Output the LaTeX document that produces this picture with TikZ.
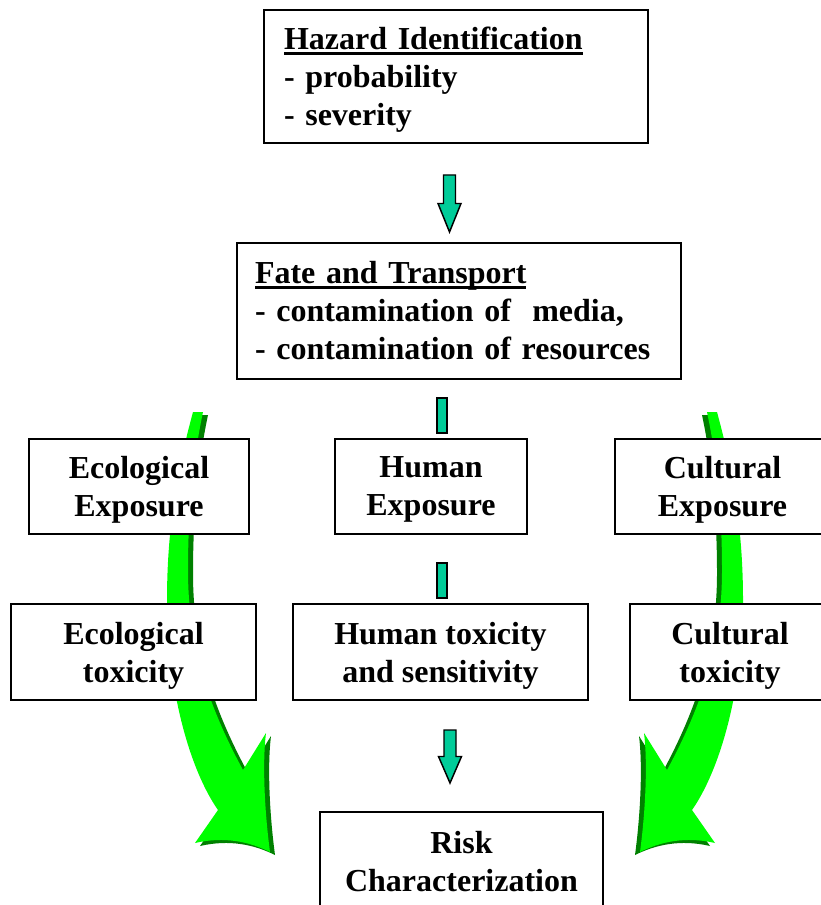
\documentclass[tikz,border=0pt]{standalone}
\usepackage{fontspec}
\setmainfont{Liberation Serif}
\usetikzlibrary{backgrounds,positioning}

\newsavebox{\headbox}
\newcommand{\ulhead}[1]{\sbox\headbox{#1}\rlap{\rule[-4pt]{\wd\headbox}{2pt}}\usebox\headbox}

\definecolor{bendGreen}{RGB}{0,255,0}
\definecolor{bendShade}{RGB}{0,128,0}
\definecolor{stepTeal}{RGB}{0,204,153}

\tikzset{
  boxbase/.style={draw=black, line width=1.5pt, fill=white, inner sep=0pt,
    font=\bfseries\fontsize{24}{28.5}\selectfont},
  box/.style={boxbase, align=center, text depth=0pt},
  listbox/.style={boxbase, align=left,
    execute at begin node={\rule{0pt}{21.4pt}},
    execute at end node={\rule[-5.2pt]{0pt}{0pt}}},
  bar/.style={draw=black, line width=1.1pt, fill=stepTeal, minimum width=7.5pt,
    minimum height=26.25pt, inner sep=0pt},
  pics/downarrow/.style={code={
    \draw[line width=1.1pt, fill=stepTeal, line join=miter]
      (-6,0) -- (6,0) -- (6,#1/2) -- (11.5,#1/2) -- (0,#1) -- (-11.5,#1/2) -- (-6,#1/2) -- cycle;}},
  pics/bendarrow/.style={code={
    \foreach \dx/\dy/\col in {5/3/bendShade, 0/0/bendGreen}
      \fill[\col, shift={(\dx,\dy)}]
        (193,412) .. controls (180,460) and (167,520) .. (167,600)
        .. controls (167,690) and (190,770) .. (218,810) -- (195,843)
        .. controls (225,836) and (250,842) .. (270,852)
        .. controls (265,815) and (262,765) .. (266,733) -- (243,770)
        .. controls (205,700) and (188,640) .. (188,570)
        .. controls (188,500) and (195,450) .. (203,412) -- cycle;}}
}

\begin{document}
\begin{tikzpicture}[x=0.75pt, y=-0.75pt]
  \useasboundingbox (0,0) rectangle (820,905);

  % top of the chain
  \node[listbox, minimum width=288pt, minimum height=99.75pt, text width=258pt] (hazard) at (456,76.5)
    {\ulhead{Hazard Identification}\\- probability\\- severity};
  \node[listbox, minimum width=333pt, minimum height=102pt, text width=306pt] (fate) at (459,311)
    {\ulhead{Fate and Transport}\\- contamination of~ media,\\- contamination of resources};

  % exposure row
  \node[box, minimum width=165pt, minimum height=71.25pt] (ecoExp) at (139,486.5) {Ecological\\Exposure};
  \node[box, minimum width=144pt, minimum height=71.25pt] (humExp) at (431,486.5) {Human\\Exposure};
  \node[box, minimum width=161.25pt, minimum height=71.25pt] (culExp) at (722.5,486.5) {Cultural\\Exposure};

  % toxicity row
  \node[box, minimum width=183.75pt, minimum height=72pt] (ecoTox) at (133.5,652) {Ecological\\toxicity};
  \node[box, minimum width=221.25pt, minimum height=72pt] (humTox) at (440.5,652) {Human toxicity\\and sensitivity};
  \node[box, minimum width=150pt, minimum height=72pt] (culTox) at (730,652) {Cultural\\toxicity};

  \node[box, minimum width=212.25pt, minimum height=73.5pt] (risk) at (461.5,861) {Risk\\Characterization};

  % teal steps
  \pic (stepA) at (449.5,175) {downarrow=57};
  \node[bar] (barA) at (442,415.5) {};
  \node[bar] (barB) at (442,580.5) {};
  \pic (stepB) at (450,730) {downarrow=53};

  % big bent arrows behind the boxes
  \begin{scope}[on background layer]
    \pic (ecoBend) at (0,0) {bendarrow};
    \pic[xscale=-1] (culBend) at (910,0) {bendarrow};
  \end{scope}
\end{tikzpicture}
\end{document}
